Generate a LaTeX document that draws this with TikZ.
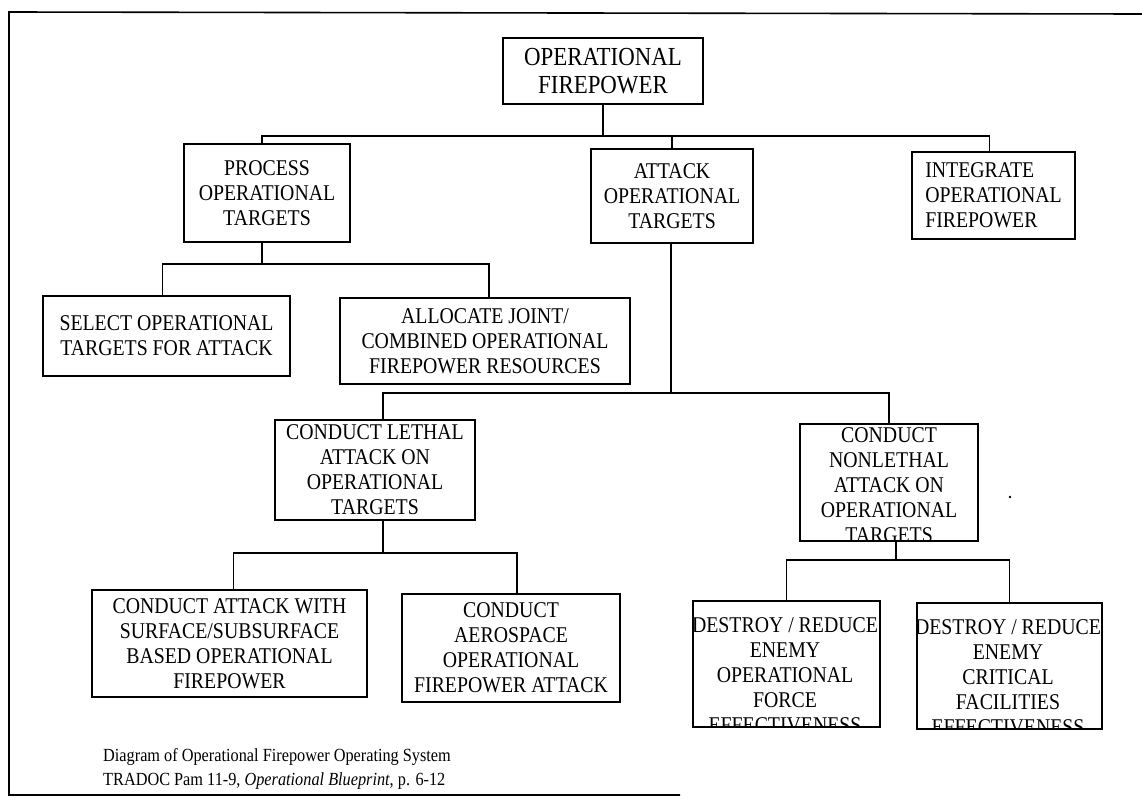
\documentclass[tikz,border=0pt]{standalone}
\usepackage{fontspec}
\setmainfont{Liberation Serif}
\newfontfamily\boxfam{Liberation Serif}[FakeStretch=0.88]
\newcommand\boxfont{\boxfam\fontsize{22.5}{25}\selectfont}
\newcommand\topfont{\boxfam\fontsize{26}{28}\selectfont}
\newcommand\capfont{\boxfam\fontsize{18.5}{24}\selectfont}
\begin{document}
\begin{tikzpicture}[x=1pt,y=-1pt,
  ln/.style={line width=1.5pt},
  box/.style={draw, line width=1.5pt, inner sep=0pt, align=center, font=\boxfont},
  clipbox/.style={draw, line width=1.5pt, inner sep=0pt},
  cliptext/.style={anchor=north, align=center, font=\boxfont, inner sep=0pt},
]
\useasboundingbox (0,0) rectangle (1142,811);
% frame
\draw[line width=1.6pt] (1142,14) -- (9,12) -- (9,795) -- (680,795);

% level 0
\node[box, font=\topfont, minimum width=200pt, minimum height=66pt] (top) at (603,71) {OPERATIONAL\\FIREPOWER};
% level 1
\node[box, minimum width=166pt, minimum height=98pt] (process) at (267,193) {PROCESS\\OPERATIONAL\\TARGETS};
\node[box, minimum width=162pt, minimum height=94pt] (attack) at (672,196) {ATTACK\\OPERATIONAL\\TARGETS};
\node[box, align=left, minimum width=163pt, minimum height=87pt] (integrate) at (993.5,195.5) {INTEGRATE\\OPERATIONAL\\FIREPOWER};
% level 2
\node[box, minimum width=247pt, minimum height=80pt] (select) at (166.5,336) {SELECT OPERATIONAL\\TARGETS FOR ATTACK};
\node[box, minimum width=290pt, minimum height=86pt] (allocate) at (485,341) {ALLOCATE JOINT/\\COMBINED OPERATIONAL\\FIREPOWER RESOURCES};
% level 3
\node[box, minimum width=200pt, minimum height=100pt] (lethal) at (375,470) {CONDUCT LETHAL\\ATTACK ON\\OPERATIONAL\\TARGETS};
\node[clipbox, minimum width=178pt, minimum height=117pt,
  path picture={\node[cliptext] at ([yshift=-1.5pt]path picture bounding box.north) {CONDUCT\\NONLETHAL\\ATTACK ON\\OPERATIONAL\\TARGETS};}]
  (nonlethal) at (889,482.5) {};
% level 4
\node[box, minimum width=275pt, minimum height=107pt] (attackwith) at (229.5,643.5) {CONDUCT ATTACK WITH\\SURFACE/SUBSURFACE\\BASED OPERATIONAL\\FIREPOWER};
\node[box, minimum width=218pt, minimum height=108pt] (aerospace) at (511,648) {CONDUCT\\AEROSPACE\\OPERATIONAL\\FIREPOWER ATTACK};
\node[clipbox, minimum width=187pt, minimum height=126pt,
  path picture={\node[cliptext] at ([xshift=-1.5pt,yshift=-10.5pt]path picture bounding box.north) {DESTROY / REDUCE\\ENEMY\\OPERATIONAL\\FORCE\\EFFECTIVENESS};}]
  (destroyA) at (786.5,664) {};
\node[clipbox, minimum width=185pt, minimum height=126pt,
  path picture={\node[cliptext] at ([xshift=-1.5pt,yshift=-10.5pt]path picture bounding box.north) {DESTROY / REDUCE\\ENEMY\\CRITICAL\\FACILITIES\\EFFECTIVENESS};}]
  (destroyB) at (1009.5,666) {};

% connectors
\coordinate (bus1) at (603,136);
\draw[ln] (top.south) -- (bus1);
\draw[ln] ([xshift=-5pt]process.north) |- (bus1) -| ([xshift=-4pt]integrate.north);
\draw[ln] (attack.north) -- (attack.north |- bus1);

\coordinate (bus2) at (262,264);
\draw[ln] ([xshift=-5pt]process.south) -- (bus2);
\draw[ln] ([xshift=-4pt]select.north) |- (bus2) -| ([xshift=4pt]allocate.north);

\coordinate (bus3) at (671,393);
\draw[ln] ([xshift=-1pt]attack.south) -- (bus3);
\draw[ln] ([xshift=8pt]lethal.north) |- (bus3) -| (nonlethal.north);

\coordinate (bus4) at (383,553);
\draw[ln] ([xshift=8pt]lethal.south) -- (bus4);
\draw[ln] ([xshift=4pt]attackwith.north) |- (bus4) -| ([xshift=6pt]aerospace.north);

\coordinate (bus5) at (896,560);
\draw[ln] ([xshift=7pt]nonlethal.south) -- (bus5);
\draw[ln] (destroyA.north) |- (bus5) -| (destroyB.north);

% speck
\fill (1010,497) circle (1.4pt);

% caption
\node[anchor=west, align=left, font=\capfont, inner sep=0pt] (caption) at (103,769)
  {Diagram of Operational Firepower Operating System\\TRADOC Pam 11-9, \textit{Operational Blueprint}, p. 6-12};
\end{tikzpicture}
\end{document}
